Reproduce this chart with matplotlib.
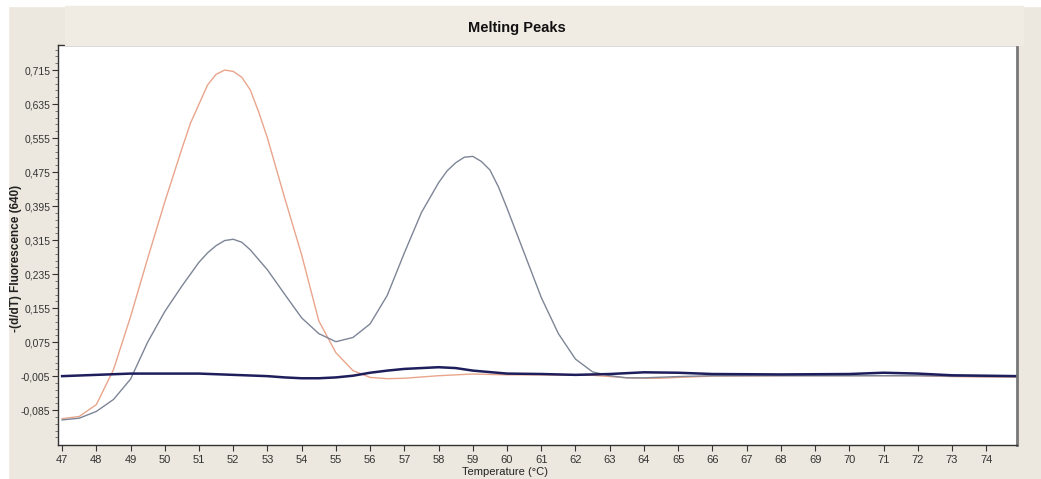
import matplotlib
matplotlib.use("Agg")
import matplotlib.pyplot as plt
from matplotlib.patches import Rectangle
from matplotlib.ticker import FixedLocator, FuncFormatter

# orange sample: single peak near 52 (temperature, -dF/dT)
orange_t = [47.0, 47.5, 48.0, 48.5, 49.0, 49.5, 50.0, 50.5, 50.75, 51.0,
            51.25, 51.5, 51.75, 52.0, 52.25, 52.5, 52.75, 53.0, 53.25, 53.5,
            54.0, 54.5, 55.0, 55.5, 56.0, 56.5, 57.0, 57.5, 58.0, 58.5,
            59.0, 60.0, 61.0, 62.0, 62.5, 63.0, 63.5, 64.0, 64.5, 65.0,
            66.0, 68.0, 70.0, 72.0, 73.0, 74.0, 74.9]
orange = [-0.105, -0.100, -0.072, 0.010, 0.135, 0.272, 0.405, 0.530, 0.590, 0.635,
          0.680, 0.705, 0.715, 0.712, 0.698, 0.668, 0.615, 0.555, 0.485, 0.415,
          0.280, 0.125, 0.050, 0.008, -0.008, -0.011, -0.010, -0.007, -0.004, -0.002,
          0.000, -0.002, -0.002, -0.003, -0.003, -0.006, -0.009, -0.010, -0.010, -0.008,
          -0.005, -0.004, -0.004, -0.004, -0.006, -0.007, -0.007]

# grey sample: two peaks, near 52 and 59
grey_t = [47.0, 47.5, 48.0, 48.5, 49.0, 49.5, 50.0, 50.5, 51.0, 51.25,
          51.5, 51.75, 52.0, 52.25, 52.5, 53.0, 53.5, 54.0, 54.5, 55.0,
          55.5, 56.0, 56.5, 57.0, 57.5, 58.0, 58.25, 58.5, 58.75, 59.0,
          59.25, 59.5, 59.75, 60.0, 60.5, 61.0, 61.5, 62.0, 62.5, 63.0,
          63.5, 64.0, 65.0, 66.0, 68.0, 70.0, 72.0, 74.0, 74.9]
grey = [-0.108, -0.104, -0.088, -0.060, -0.012, 0.075, 0.147, 0.207, 0.263, 0.285,
        0.302, 0.314, 0.317, 0.310, 0.292, 0.245, 0.188, 0.132, 0.095, 0.076,
        0.086, 0.118, 0.185, 0.285, 0.380, 0.450, 0.478, 0.497, 0.510, 0.512,
        0.500, 0.480, 0.440, 0.390, 0.285, 0.180, 0.095, 0.035, 0.005, -0.004,
        -0.009, -0.009, -0.006, -0.004, -0.004, -0.004, -0.004, -0.006, -0.006]

# navy: negative control, nearly flat
navy_t = [47.0, 48.0, 49.0, 50.0, 51.0, 52.0, 53.0, 53.5, 54.0, 54.5,
          55.0, 55.5, 56.0, 56.5, 57.0, 57.5, 58.0, 58.5, 59.0, 60.0,
          61.0, 62.0, 63.0, 64.0, 65.0, 66.0, 68.0, 70.0, 71.0, 72.0,
          73.0, 74.0, 74.9]
navy = [-0.005, -0.002, 0.001, 0.001, 0.001, -0.002, -0.005, -0.008, -0.010, -0.010,
        -0.008, -0.004, 0.003, 0.008, 0.012, 0.014, 0.016, 0.014, 0.008, 0.001,
        0.000, -0.002, 0.000, 0.004, 0.003, 0.000, -0.001, 0.000, 0.003, 0.001,
        -0.003, -0.004, -0.005]

xticks = list(range(47, 75))
yticks = [-0.085, -0.005, 0.075, 0.155, 0.235, 0.315, 0.395, 0.475, 0.555, 0.635, 0.715]

BG = '#EDE8DF'
plt.rcParams['font.family'] = ['Liberation Sans', 'DejaVu Sans']

W, H = 1041, 479
fig = plt.figure(figsize=(W / 100, H / 100), dpi=100, facecolor=BG)
# white edge on left/top like the screenshot
fig.patches.append(Rectangle((0, 0), 8 / W, 1, transform=fig.transFigure, color='white', zorder=0))
fig.patches.append(Rectangle((0, 1 - 6 / H), 1, 6 / H, transform=fig.transFigure, color='white', zorder=0))
# slightly lighter title band
fig.patches.append(Rectangle((65 / W, 1 - 45 / H), (1023 - 65) / W, 39 / H,
                             transform=fig.transFigure, color='#F0EBE3', zorder=0))

ax = fig.add_axes([58 / W, 1 - 445 / H, (1017 - 58) / W, 400 / H])
ax.set_facecolor('white')

ax.plot(orange_t, orange, color='#E9A58C', lw=1.0)
ax.plot(grey_t, grey, color='#7D8596', lw=1.0)
ax.plot(navy_t, navy, color='#1E1E5C', lw=1.8)

ax.set_xlim(46.88, 74.9)
ax.set_ylim(-0.167, 0.774)

ax.xaxis.set_major_locator(FixedLocator(xticks))
ax.yaxis.set_major_locator(FixedLocator(yticks))
ax.yaxis.set_minor_locator(FixedLocator([yticks[0] + 0.016 * i for i in range(-4, 60)]))
ax.yaxis.set_major_formatter(FuncFormatter(lambda v, p: ('%.3f' % v).replace('.', ',')))

ax.tick_params(axis='both', which='major', labelsize=7.5, colors='#333333', length=4, width=0.8, pad=1.5)
ax.tick_params(axis='y', which='minor', length=2, width=0.6, colors='#666666')
ax.tick_params(axis='x', which='major', labelsize=8, pad=3)

for side in ['left', 'bottom', 'top']:
    ax.spines[side].set_color('#333333')
    ax.spines[side].set_linewidth(1.0)
ax.spines['right'].set_color('#777777')
ax.spines['right'].set_linewidth(2.0)

fig.text(505 / W, 1 - 472 / H, 'Temperature (°C)', ha='center', va='center',
         fontsize=8, color='#222222')
fig.text(16 / W, 1 - 258 / H, '-(d/dT) Fluorescence (640)', ha='center', va='center',
         rotation=90, fontsize=8.5, fontweight='bold', color='#222222')
fig.text(517 / W, 1 - 28 / H, 'Melting Peaks', ha='center', va='center',
         fontsize=10.5, fontweight='bold', color='#111111')

fig.savefig('out.png', dpi=100, facecolor=BG)
